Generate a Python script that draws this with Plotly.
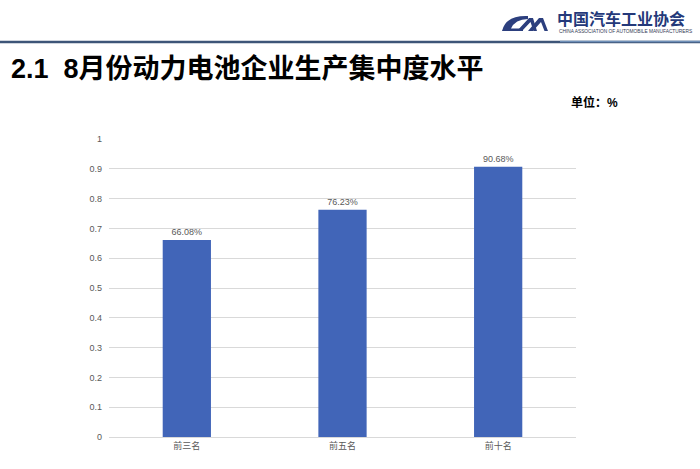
import plotly.graph_objects as go

categories = ["前三名", "前五名", "前十名"]
values = [0.6608, 0.7623, 0.9068]
y_ticks = [0, 0.1, 0.2, 0.3, 0.4, 0.5, 0.6, 0.7, 0.8, 0.9, 1]
y_tick_labels = ["0", "0.1", "0.2", "0.3", "0.4", "0.5", "0.6", "0.7", "0.8", "0.9", "1"]

W, H = 700, 469
ML, MR, MT, MB = 109, 124, 139, 32
PW, PH = W - ML - MR, H - MT - MB

def px(x):
    return (x - ML) / PW

def py(y):
    return 1 - (y - MT) / PH

FONT = "Liberation Sans, Arial, Noto Sans CJK SC, sans-serif"

fig = go.Figure(go.Bar(
    x=categories, y=values,
    marker=dict(color="#4165b8", line=dict(width=0)),
    width=0.31,
    texttemplate="%{y:.2%}", textposition="outside",
    textfont=dict(size=9, color="#595959", family=FONT),
    cliponaxis=False,
))

def path(points, closed=True):
    s = ""
    for cmd, *pts in points:
        s += cmd + " " + " ".join(f"{px(a):.5f},{py(b):.5f}" for a, b in zip(pts[::2], pts[1::2])) + " "
    if closed:
        s += "Z"
    return s

shapes = []
# header rule
shapes.append(dict(type="line", xref="paper", yref="paper", x0=px(0), x1=px(700), y0=py(42), y1=py(42),
                   line=dict(color="#3d5578", width=2.5)))
shapes.append(dict(type="line", xref="paper", yref="paper", x0=px(560), x1=px(700), y0=py(41.5), y1=py(41.5),
                   line=dict(color="#6f90b8", width=1.5)))
# logo swoosh "C"
shapes.append(dict(type="path", xref="paper", yref="paper", line=dict(width=0), fillcolor="#2c3f7e",
                   path=path([("M", 528, 16), ("Q", 506, 15, 502, 31), ("L", 523, 31), ("L", 523, 28.5),
                              ("L", 511, 28.5), ("Q", 515, 19.5, 528, 19)])))
# logo "M" arches
shapes.append(dict(type="path", xref="paper", yref="paper", line=dict(width=0), fillcolor="#2c3f7e",
                   path=path([("M", 517, 31), ("L", 529, 18), ("L", 533, 18), ("L", 537, 31), ("L", 533.5, 31),
                              ("L", 530.5, 22), ("L", 522, 31)])))
shapes.append(dict(type="path", xref="paper", yref="paper", line=dict(width=0), fillcolor="#2c3f7e",
                   path=path([("M", 528, 31), ("L", 539, 18), ("L", 543, 18), ("L", 548, 31), ("L", 544.5, 31),
                              ("L", 541, 22), ("L", 533, 31)])))

annotations = [
    dict(text="<b>2.1  8月份动力电池企业生产集中度水平</b>", x=px(9), y=py(69), xref="paper", yref="paper",
         xanchor="left", yanchor="middle", showarrow=False,
         font=dict(size=27, color="#000000", family=FONT)),
    dict(text="<b>单位：%</b>", x=px(569), y=py(103), xref="paper", yref="paper",
         xanchor="left", yanchor="middle", showarrow=False,
         font=dict(size=12, color="#000000", family=FONT)),
    dict(text="<b>中国汽车工业协会</b>", x=px(555), y=py(18), xref="paper", yref="paper",
         xanchor="left", yanchor="middle", showarrow=False,
         font=dict(size=16, color="#24397a", family="Noto Sans CJK SC, sans-serif")),
    dict(text="CHINA ASSOCIATION OF AUTOMOBILE MANUFACTURERS", x=px(557), y=py(31), xref="paper", yref="paper",
         xanchor="left", yanchor="middle", showarrow=False,
         font=dict(size=4.8, color="#333a55", family=FONT)),
]

fig.update_layout(
    width=W, height=H,
    margin=dict(l=ML, r=MR, t=MT, b=MB, pad=0),
    paper_bgcolor="white", plot_bgcolor="white",
    showlegend=False,
    bargap=0.69,
    shapes=shapes, annotations=annotations,
    font=dict(family=FONT, color="#595959", size=9),
)
fig.update_xaxes(
    showline=True, linecolor="#d9d9d9", linewidth=1, showgrid=False, ticks="",
    tickfont=dict(size=9, color="#595959"),
)
fig.update_yaxes(
    range=[0, 1], tickvals=y_ticks, ticktext=y_tick_labels,
    showgrid=True, gridcolor="#d9d9d9", gridwidth=1, zeroline=False, showline=False,
    ticks="", ticklabelstandoff=6,
    tickfont=dict(size=9, color="#595959"),
)

fig.write_html("out.html", config={"displayModeBar": False},
               post_script="document.body.style.margin='0';")
